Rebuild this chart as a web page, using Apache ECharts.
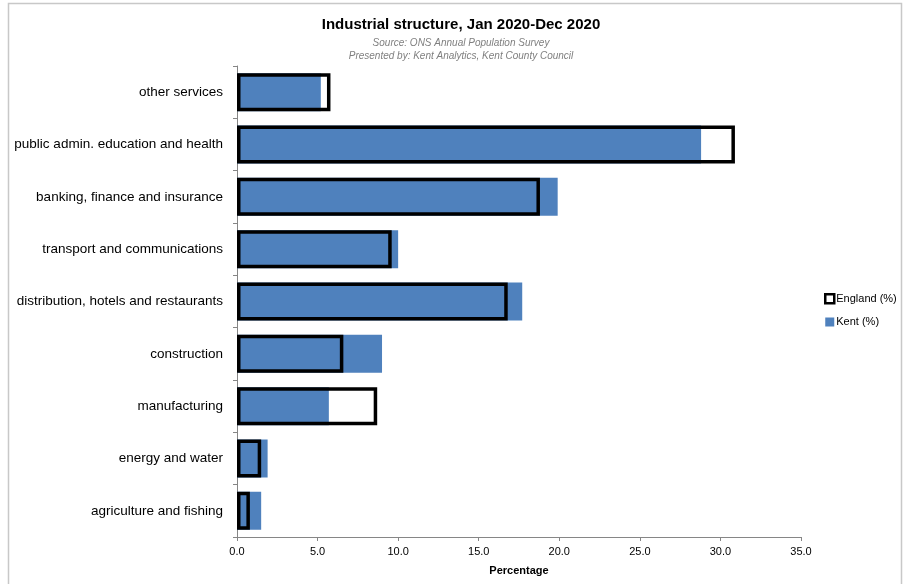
<!DOCTYPE html>
<html>
<head>
<meta charset="utf-8">
<script src="https://cdn.jsdelivr.net/npm/echarts@6/dist/echarts.min.js"></script>
<style>
    html, body { margin: 0; padding: 0; background: #fff; }
    #chart { width: 903px; height: 584px; }
</style>
</head>
<body>
<div id="chart"></div>
<script>
    // categories, top to bottom
    var industries = [
        'other services',
        'public admin. education and health',
        'banking, finance and insurance',
        'transport and communications',
        'distribution, hotels and restaurants',
        'construction',
        'manufacturing',
        'energy and water',
        'agriculture and fishing'
    ];
    var kent = [5.2, 28.8, 19.9, 10.0, 17.7, 9.0, 5.7, 1.9, 1.5];
    var england = [5.8, 30.9, 18.8, 9.6, 16.8, 6.6, 8.7, 1.5, 0.8];

    var font = 'Liberation Sans';
    var chart = echarts.init(document.getElementById('chart'));

    var option = {
        animation: false,
        textStyle: { fontFamily: font },
        graphic: [{
            type: 'rect',
            shape: { x: 8.5, y: 3.5, width: 893, height: 590 },
            style: { fill: 'none', stroke: '#c8c8c8', lineWidth: 1.5 },
            silent: true
        }],
        title: {
            text: 'Industrial structure, Jan 2020-Dec 2020',
            subtext: 'Source: ONS Annual Population Survey\nPresented by: Kent Analytics, Kent County Council',
            left: 456,
            textAlign: 'center',
            top: 12,
            itemGap: 5,
            textStyle: { fontFamily: font, fontSize: 15, fontWeight: 'bold', color: '#000' },
            subtextStyle: { fontFamily: font, fontSize: 10, fontStyle: 'italic', color: '#7f7f7f', lineHeight: 13 }
        },
        legend: {
            orient: 'vertical',
            left: 819,
            top: 288,
            itemWidth: 9,
            itemHeight: 9,
            itemGap: 12,
            data: [
                { name: 'England (%)', icon: 'rect', itemStyle: { color: '#fff', borderColor: '#000', borderWidth: 2.5 } },
                { name: 'Kent (%)', icon: 'rect' }
            ],
            textStyle: { fontFamily: font, fontSize: 11, color: '#000', padding: [0, 0, 0, -3] }
        },
        grid: { left: 237, right: 102, top: 66, bottom: 47 },
        xAxis: {
            type: 'value',
            min: 0,
            max: 35,
            interval: 5,
            name: 'Percentage',
            nameLocation: 'middle',
            nameGap: 28,
            nameTextStyle: { fontFamily: font, fontSize: 11, fontWeight: 'bold', color: '#000' },
            axisLine: { show: true, lineStyle: { color: '#868686' } },
            axisTick: { show: true, length: 4, lineStyle: { color: '#868686' } },
            axisLabel: {
                fontFamily: font, fontSize: 11, color: '#000', margin: 9,
                formatter: function (v) { return v.toFixed(1); }
            },
            splitLine: { show: false }
        },
        yAxis: {
            type: 'category',
            inverse: true,
            data: industries,
            axisLine: { show: true, lineStyle: { color: '#868686' } },
            axisTick: { show: true, length: 4, lineStyle: { color: '#868686' } },
            axisLabel: { fontFamily: font, fontSize: 13.5, color: '#000', margin: 14 }
        },
        series: [
            {
                name: 'Kent (%)',
                type: 'bar',
                data: kent,
                barWidth: 38,
                itemStyle: { color: '#4f81bd' },
                z: 2
            },
            {
                name: 'England (%)',
                type: 'bar',
                data: england,
                barWidth: 38,
                barGap: '-100%',
                itemStyle: { color: 'rgba(0,0,0,0)', borderColor: '#000', borderWidth: 3.5 },
                z: 3
            }
        ]
    };
    chart.setOption(option);
</script>
</body>
</html>
